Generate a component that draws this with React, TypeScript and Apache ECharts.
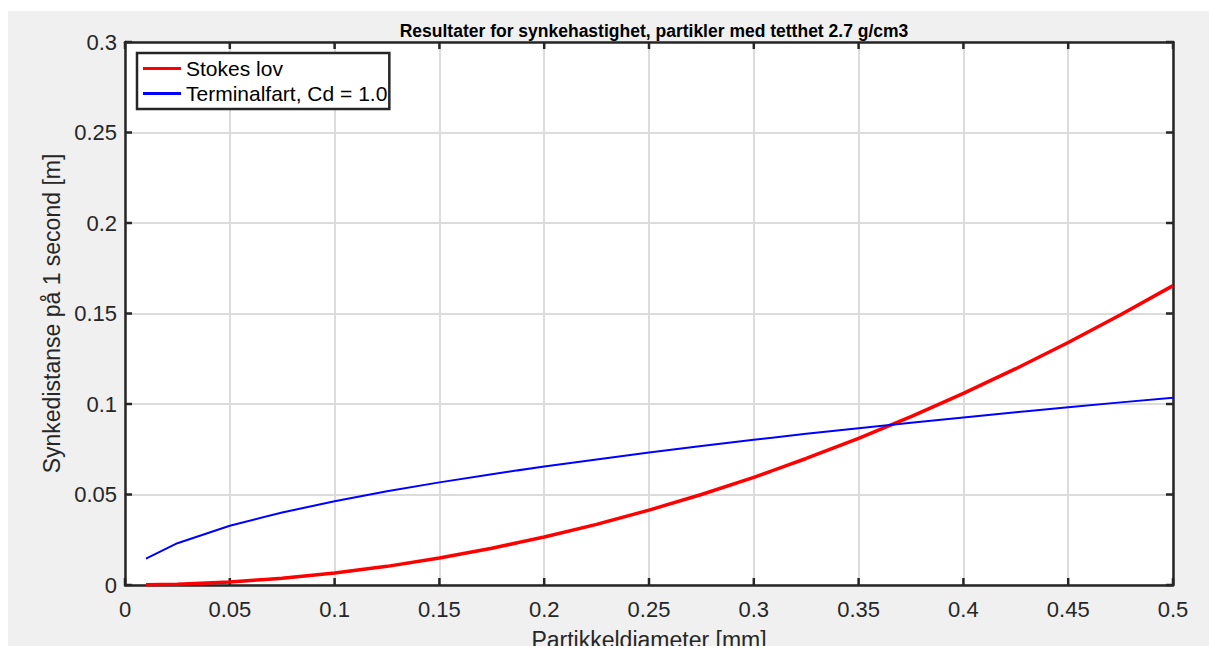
import React, { useEffect, useRef } from "react";
import * as echarts from "echarts";

const diameters = [0.01, 0.025, 0.05, 0.075, 0.1, 0.125, 0.15, 0.175, 0.2, 0.225, 0.25, 0.275, 0.3, 0.325, 0.35, 0.375, 0.4, 0.425, 0.45, 0.475, 0.5];
const stokesValues = [0.00007, 0.0004, 0.00165, 0.0037, 0.0066, 0.0103, 0.0149, 0.0203, 0.0265, 0.0335, 0.0414, 0.05, 0.0595, 0.0699, 0.081, 0.093, 0.1059, 0.1195, 0.134, 0.1493, 0.1654];
const terminalValues = [0.0146, 0.0231, 0.0327, 0.0401, 0.0463, 0.0518, 0.0567, 0.0612, 0.0655, 0.0694, 0.0732, 0.0768, 0.0802, 0.0835, 0.0866, 0.0897, 0.0926, 0.0954, 0.0982, 0.1009, 0.1035];
const xTicks = [0, 0.05, 0.1, 0.15, 0.2, 0.25, 0.3, 0.35, 0.4, 0.45, 0.5];
const yTicks = [0, 0.05, 0.1, 0.15, 0.2, 0.25, 0.3];
const seriesNames = ["Stokes lov", "Terminalfart, Cd = 1.0"];
const titleText = "Resultater for synkehastighet, partikler med tetthet 2.7 g/cm3";
const xName = "Partikkeldiameter [mm]";
const yName = "Synkedistanse på 1 second [m]";

const FONT = "'Liberation Sans', Arial, Helvetica, sans-serif";
const INK = "#262626";
const TICK_LEN = 7;

function mkLine() {
  return { show: true, onZero: false, lineStyle: { color: INK, width: 2.5 } };
}

export default function App() {
  const ref = useRef<HTMLDivElement>(null);
  useEffect(() => {
    if (!ref.current) return;
    const chart = echarts.init(ref.current, null, { renderer: "svg" });
    const split = { show: true, lineStyle: { color: "#dcdcdc", width: 2 } };
    const xMin = xTicks[0];
    const xMax = xTicks[xTicks.length - 1];
    const yMin = yTicks[0];
    const yMax = yTicks[yTicks.length - 1];
    const tickStyle = { stroke: INK, lineWidth: 2.5 };
    chart.setOption({
      animation: false,
      backgroundColor: "#f0f0f0",
      textStyle: { fontFamily: FONT },
      title: {
        text: titleText,
        left: 641,
        top: 6,
        textAlign: "center",
        textStyle: { fontFamily: FONT, fontSize: 17.5, fontWeight: "bold", color: "#000" },
      },
      grid: {
        left: 117,
        right: 36,
        top: 31,
        bottom: 61,
        show: true,
        backgroundColor: "#fff",
        borderWidth: 0,
        containLabel: false,
        outerBoundsMode: "none",
      },
      legend: {
        orient: "vertical",
        left: 129,
        top: 42,
        padding: [5, 2, 5, 6],
        itemGap: 4,
        itemWidth: 38,
        itemHeight: 3,
        backgroundColor: "#fff",
        borderColor: INK,
        borderWidth: 2.5,
        borderRadius: 0,
        textStyle: { fontFamily: FONT, fontSize: 21, color: "#000", lineHeight: 21 },
        data: seriesNames.map((n) => ({ name: n, icon: "rect" })),
      },
      xAxis: [
        {
          type: "value",
          min: xMin,
          max: xMax,
          interval: 0.05,
          position: "bottom",
          name: xName,
          nameLocation: "middle",
          nameGap: 43,
          nameTextStyle: { fontFamily: FONT, fontSize: 23, color: INK },
          axisLine: mkLine(),
          axisTick: { show: false },
          splitLine: split,
          axisLabel: { fontFamily: FONT, fontSize: 22, color: INK, margin: 13 },
        },
        {
          type: "value",
          min: xMin,
          max: xMax,
          interval: 0.05,
          position: "top",
          axisLine: mkLine(),
          axisTick: { show: false },
          splitLine: { show: false },
          axisLabel: { show: false },
        },
      ],
      yAxis: [
        {
          type: "value",
          min: yMin,
          max: yMax,
          interval: 0.05,
          position: "left",
          name: yName,
          nameLocation: "middle",
          nameGap: 51,
          nameTextStyle: { fontFamily: FONT, fontSize: 23, color: INK },
          axisLine: mkLine(),
          axisTick: { show: false },
          splitLine: split,
          axisLabel: { fontFamily: FONT, fontSize: 22, color: INK, margin: 8 },
        },
        {
          type: "value",
          min: yMin,
          max: yMax,
          interval: 0.05,
          position: "right",
          axisLine: mkLine(),
          axisTick: { show: false },
          splitLine: { show: false },
          axisLabel: { show: false },
        },
      ],
      series: [
        {
          name: seriesNames[0],
          type: "line",
          symbol: "none",
          smooth: false,
          lineStyle: { color: "#ff0000", width: 3.5 },
          itemStyle: { color: "#ff0000" },
          data: diameters.map((d, i) => [d, stokesValues[i]]),
          z: 3,
        },
        {
          name: seriesNames[1],
          type: "line",
          symbol: "none",
          smooth: false,
          lineStyle: { color: "#0000ff", width: 2 },
          itemStyle: { color: "#0000ff" },
          data: diameters.map((d, i) => [d, terminalValues[i]]),
          z: 3,
        },
        {
          name: "xTickMarks",
          type: "custom",
          silent: true,
          clip: false,
          z: 2,
          data: xTicks.map((v) => [v, yMin]),
          renderItem: (_p: any, api: any) => {
            const v = api.value(0);
            const b = api.coord([v, yMin]);
            const t = api.coord([v, yMax]);
            return {
              type: "group",
              children: [
                { type: "line", shape: { x1: b[0], y1: b[1], x2: b[0], y2: b[1] - TICK_LEN }, style: tickStyle },
                { type: "line", shape: { x1: t[0], y1: t[1], x2: t[0], y2: t[1] + TICK_LEN }, style: tickStyle },
              ],
            };
          },
        },
        {
          name: "yTickMarks",
          type: "custom",
          silent: true,
          clip: false,
          z: 2,
          data: yTicks.map((v) => [xMin, v]),
          renderItem: (_p: any, api: any) => {
            const v = api.value(1);
            const l = api.coord([xMin, v]);
            const r = api.coord([xMax, v]);
            return {
              type: "group",
              children: [
                { type: "line", shape: { x1: l[0], y1: l[1], x2: l[0] + TICK_LEN, y2: l[1] }, style: tickStyle },
                { type: "line", shape: { x1: r[0], y1: r[1], x2: r[0] - TICK_LEN, y2: r[1] }, style: tickStyle },
              ],
            };
          },
        },
      ],
    });
    return () => chart.dispose();
  }, []);
  return (
    <div
      ref={ref}
      style={{ position: "fixed", left: 8, top: 11, width: 1201, height: 635 }}
    />
  );
}
